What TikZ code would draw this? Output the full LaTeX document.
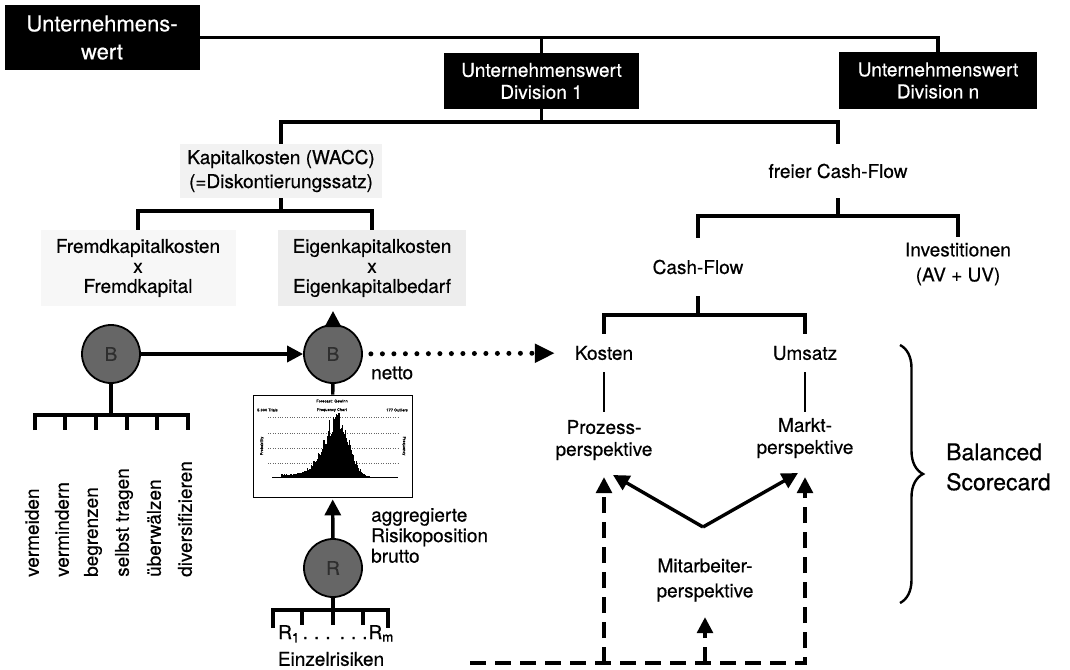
\documentclass[tikz,border=0pt]{standalone}
\usepackage{fontspec}
\setmainfont{TeX Gyre Heros}[FakeBold=0.5]
\usetikzlibrary{arrows.meta,decorations.pathreplacing}
\begin{document}
\begin{tikzpicture}[x=1pt,y=-1pt,
  >={Triangle[length=16pt,width=16pt]},
  hdr/.style={fill=black,text=white,font=\fontsize{22}{28}\selectfont,align=center,inner sep=0pt},
  dv/.style={fill=black,text=white,font=\fontsize{19}{22}\selectfont,align=center,inner sep=0pt},
  txt/.style={font=\fontsize{19}{22}\selectfont,align=center,inner sep=0pt},
  txtb/.style={font=\fontsize{19}{20}\selectfont,align=center,inner sep=0pt},
  big/.style={font=\fontsize{23}{30}\selectfont,align=left,inner sep=0pt},
  tiny/.style={font=\fontsize{4}{4.5}\selectfont,inner sep=0pt},
  circ/.style={circle,draw=black,line width=1.8pt,fill=black!60,text=black!82,minimum size=58pt,inner sep=0pt,font=\fontsize{19}{22}\selectfont},
  ln/.style={line width=3.4pt},
  lnthin/.style={line width=2.4pt},
  dsh/.style={line width=3.2pt,dash pattern=on 16pt off 9pt},
  dotarr/.style={line width=5pt,dash pattern=on 0pt off 11.5pt,line cap=round},
  brc/.style={line width=2.4pt,decorate,decoration={brace,amplitude=23pt}}
]
\useasboundingbox (0,0) rectangle (1070,669);

% helper coordinates
\coordinate (yj1) at (0,122);
\coordinate (yj2) at (0,211);
\coordinate (yj3) at (0,216);
\coordinate (yj4) at (0,315);
\coordinate (yb) at (0,415);
\coordinate (yek) at (0,311);

% header boxes
\node[hdr,minimum width=195pt,minimum height=65pt] (uw) at (102,37.5) {Unternehmens-\\wert};
\node[dv,minimum width=195pt,minimum height=56pt] (d1) at (541.5,81) {Unternehmenswert\\Division 1};
\node[dv,minimum width=198pt,minimum height=56pt] (dn) at (938,80.5) {Unternehmenswert\\Division n};

% text nodes
\node[txt,fill=black!5,minimum width=202pt,minimum height=54pt,font=\fontsize{19}{24}\selectfont] (kap) at (281,171) {Kapitalkosten (WACC)\\(=Diskontierungssatz)};
\node[txtb,fill=black!3,minimum width=195pt,minimum height=76pt] (fk) at (138,268) {Fremdkapitalkosten\\x\\Fremdkapital};
\node[txtb,fill=black!7,minimum width=188pt,minimum height=76pt] (ek) at (372,268) {Eigenkapitalkosten\\x\\Eigenkapitalbedarf};
\node[txt,minimum width=160pt,minimum height=54pt] (fcf) at (838,171) {freier Cash-Flow};
\node[txt,minimum width=100pt,minimum height=58pt] (cf) at (698,267) {Cash-Flow};
\node[txt,minimum width=140pt,minimum height=54pt,font=\fontsize{19}{25}\selectfont] (inv) at (958,264) {Investitionen\\(AV + UV)};
\node[txt,minimum width=60pt,minimum height=38pt] (kos) at (604,353) {Kosten};
\node[txt,minimum width=66pt,minimum height=38pt] (ums) at (805,353) {Umsatz};
\node[txt,minimum width=130pt,minimum height=56pt] (proz) at (604,440) {Prozess-\\perspektive};
\node[txt,minimum width=120pt,minimum height=52pt] (mkt) at (805,438) {Markt-\\perspektive};
\node[txt,minimum width=130pt,minimum height=56pt,font=\fontsize{19}{25}\selectfont] (mit) at (705,580) {Mitarbeiter-\\perspektive};
\node[big,anchor=west] (bs) at (946,467) {Balanced\\Scorecard};

% tree connectors
\draw[ln] (uw.east) -| (dn.north);
\draw[ln] (d1.north) -- (d1.north |- uw.east);
\draw[ln] (d1.south) -- (d1.south |- yj1);
\draw[ln] (kap.north) -- (kap.north |- yj1) -- (fcf.north |- yj1) -- (fcf.north);
\draw[ln] (kap.south) -- (kap.south |- yj2);
\draw[ln] (fk.north) -- (fk.north |- yj2) -- (ek.north |- yj2) -- (ek.north);
\draw[ln] (fcf.south) -- (fcf.south |- yj3);
\draw[ln] (cf.north) -- (cf.north |- yj3) -- (inv.north |- yj3) -- (inv.north);
\draw[ln] (cf.south) -- (cf.south |- yj4);
\draw[ln] (kos.north) -- (kos.north |- yj4) -- (ums.north |- yj4) -- (ums.north);
\draw[lnthin] (kos.south) -- (proz.north);
\draw[lnthin] (ums.south) -- (mkt.north);

% balanced scorecard arrows
\coordinate (v) at (703,527);
\coordinate (ptip) at (613,475);
\coordinate (mtip) at (798,473);
\draw[ln,->] (v) -- (ptip);
\draw[ln,->] (v) -- (mtip);

\coordinate (bl) at (470,663);
\coordinate (bp) at (604,663);
\coordinate (bm) at (705,663);
\coordinate (br) at (805,663);
\draw[dsh,->,shorten >=13pt] (bl) -- (br) -- (mkt.south);
\draw[dsh,->,shorten >=9pt] (bp) -- (proz.south);
\draw[dsh,->,shorten >=9pt] (bm) -- (mit.south);

% brace
\draw[brc] (900,345) -- (900,603);

% circles
\node[circ] (b1) at (111,354) {B};
\node[circ] (b2) at (333,354) {B};
\node[circ] (r) at (333,568) {R};

% chart
\node[draw,line width=0.8pt,fill=white,minimum width=159pt,minimum height=102pt,inner sep=0pt] (chart) at (332.5,446) {};
\node[tiny] (ct1) at (332,401) {Forecast: Gewinn};
\node[tiny,anchor=west] (ct2) at (257,410) {5.000 Trials};
\node[tiny] (ct3) at (332,410) {Frequency Chart};
\node[tiny,anchor=east] (ct4) at (408,410) {177 Outliers};
\node[tiny,rotate=90] (ct5) at (262,446) {Probability};
\node[tiny,rotate=-90] (ct6) at (404,446) {Frequency};
\foreach \gy in {417,433,448,463}
  \draw[black!60,line width=0.5pt,dash pattern=on 0.8pt off 1.6pt] (268,\gy) -- (398,\gy);
\draw[line width=0.5pt] (272,477) -- (398,477);
\pgfmathsetseed{11}
\foreach \i in {0,...,88} {
  \pgfmathsetmacro\xx{281+\i}
  \pgfmathsetmacro\hh{(\xx<338) ? (58*exp(-((\xx-338)/20)^2)+2.5) : (58*exp(-((\xx-338)/15)^2))}
  \pgfmathsetmacro\hn{\hh*(0.75+0.45*rnd)}
  \fill[black] (\xx,477) rectangle ++(0.9,-\hn);
}

% left connectors
\draw[ln,->] (b1) -- (b2);
\draw[ln,->,shorten <=-7pt] (b2.north) -- (b2.north |- yek);
\draw[ln] (b2) -- (chart);
\draw[ln,->,shorten >=2pt] (r) -- (chart);
\draw[dotarr,-{Triangle[length=20pt,width=18pt]},shorten <=8pt,shorten >=19pt] (b2) -- (kos);

% B1 bracket and measures
\draw[ln] (b1.south) -- (b1.south |- yb);
\draw[ln] (35,430) -- (35,415) -- (188,415) -- (188,430);
\foreach \tx in {65,96,127,157}
  \draw[ln] (\tx,415) -- (\tx,430);
\foreach \x/\t [count=\i] in {35/vermeiden,65/vermindern,96/begrenzen,127/selbst tragen,157/überwälzen,188/diversifizieren}
  \node[txt,rotate=90,anchor=west] (m\i) at (\x-3,577) {\t};

% labels near B2 / R
\node[txt,anchor=west] (net) at (371,373) {netto};
\node[txt,anchor=north west,align=left,font=\fontsize{19}{20.5}\selectfont] (agg) at (371,508) {aggregierte\\Risikoposition\\brutto};

% R bracket
\draw[ln] (r.south) -- ++(0,27);
\draw[ln] (273,628) -- (273,610) -- (388,610) -- (388,628);
\foreach \tx in {302,363}
  \draw[ln] (\tx,610) -- (\tx,625);
\node[txt,anchor=base] (rr) at (336,639) {R\textsubscript{1}\hspace{3pt}.\hspace{6pt}.\hspace{6pt}.\hspace{9pt}.\hspace{6pt}.\hspace{6pt}.\hspace{1pt}R\textsubscript{m}};
\node[txt] (ez) at (331,659) {Einzelrisiken};
\end{tikzpicture}
\end{document}
